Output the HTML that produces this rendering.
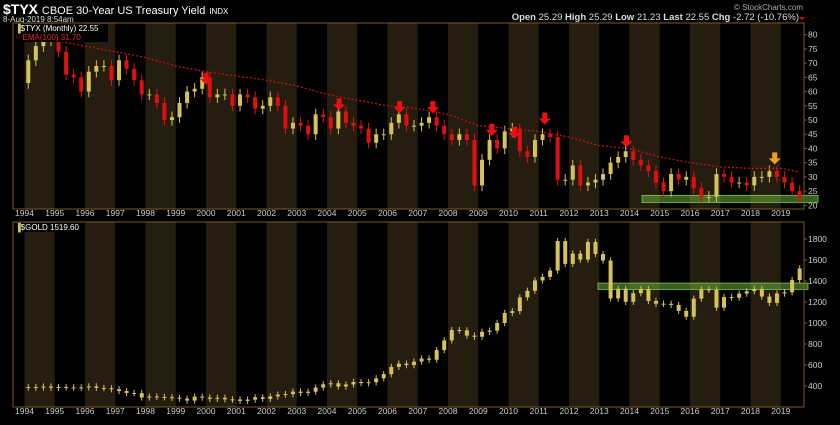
<!DOCTYPE html>
<html><head><meta charset="utf-8"><style>
body{margin:0;background:#000;width:840px;height:420px;overflow:hidden;font-family:"Liberation Sans",sans-serif}
svg text{font-family:"Liberation Sans",sans-serif}
</style></head><body>
<svg id="c" width="840" height="420" xmlns="http://www.w3.org/2000/svg">
<rect width="840" height="420" fill="#000"/>
<g id="bands"></g>
<g id="hdr">
<text x="3" y="14" fill="#fff" font-size="14" font-weight="bold">$TYX <tspan font-size="11" font-weight="normal">CBOE 30-Year US Treasury Yield</tspan> <tspan font-size="8" font-weight="normal">INDX</tspan></text>
<text x="3" y="22" fill="#ddd" font-size="8">8-Aug-2019 8:54am</text>
<text x="803" y="10" fill="#aaa" font-size="8" text-anchor="end">© StockCharts.com</text>
<text x="799" y="20" fill="#ddd" font-size="9.5" text-anchor="end"><tspan font-weight="bold">Open</tspan> 25.29 <tspan font-weight="bold">High</tspan> 25.29 <tspan font-weight="bold">Low</tspan> 21.23 <tspan font-weight="bold">Last</tspan> 22.55 <tspan font-weight="bold">Chg</tspan> -2.72 (-10.76%)</text>
<polygon points="799,17 805,17 802,20" fill="#e00"/>
</g>
<g id="marks"></g>
<g id="axes"></g>
<rect x="14" y="24" width="94" height="18" fill="#000"/>
<text x="15" y="31" fill="#fff" font-size="8"><tspan fill="#d4c25a">▐</tspan>$TYX (Monthly) 22.55</text>
<text x="15" y="40" fill="#e22" font-size="8">·· EMA(100) 31.70</text>
<rect x="14" y="223" width="68" height="9" fill="#000"/>
<text x="15" y="230" fill="#fff" font-size="8"><tspan fill="#d4c25a">▐</tspan>$GOLD 1519.60</text>
</svg>
<script>
const years=[1994,1995,1996,1997,1998,1999,2000,2001,2002,2003,2004,2005,2006,2007,2008,2009,2010,2011,2012,2013,2014,2015,2016,2017,2018,2019];
const tyxQ=[71,76,78,79,74,66,65,60,67,69,69,64,71,68,64,59,59,56,50,51,56,60,61,65,58,59,59,55,59,58,54,55,58,55,47,49,48,45,52,51,47,53,49,48,47,42,45,45,49,52,48,48,49,51,48,45,43,45,43,27,36,43,40,46,47,39,37,43,45,44,29,29,34,27,28,29,31,35,37,39,36,34,32,28,25,31,29,30,26,23,23,31,30,28,28,27,30,30,32,30,28,25,22.5];
const emaVals=[80,78,76,74,72,69,67,65.5,64,62,59,57,55,54,52,48,47,46,44,41,40,37,35,33.5,33,33,31.7];
const goldQ=[390,385,395,383,390,387,384,387,396,382,379,369,352,334,332,290,300,296,293,288,280,261,299,290,278,288,273,272,258,270,293,277,301,318,323,347,334,346,385,416,426,395,415,438,428,436,473,513,582,613,599,632,662,650,742,834,933,930,880,869,916,927,1000,1096,1113,1244,1307,1405,1439,1500,1780,1563,1662,1604,1772,1657,1595,1234,1326,1202,1284,1322,1210,1184,1183,1172,1115,1060,1232,1320,1315,1146,1247,1241,1280,1303,1325,1252,1192,1281,1292,1409,1519.6];
const tyxTicks=[20,25,30,35,40,45,50,55,60,65,70,75,80];
const goldTicks=[400,600,800,1000,1200,1400,1600,1800];
const redArrows=[2000.0,2004.4,2006.4,2007.5,2009.45,2010.2,2011.2,2013.9];
const orangeArrows=[2018.8];

const NS="http://www.w3.org/2000/svg";
function mk(t,a,p){const e=document.createElementNS(NS,t);for(const k in a)e.setAttribute(k,a[k]);p.appendChild(e);return e;}
const X=t=>24.5+(t-1994)*30.25;
const Y1=v=>205.3-(v-20)*2.843;
const Y2=v=>386-(v-400)*0.105;
const bands=document.getElementById('bands'),marks=document.getElementById('marks'),axes=document.getElementById('axes');
years.forEach(y=>{if(y%2==0){[[23,209],[222,407]].forEach(r=>{
 const b=mk('rect',{x:X(y),y:r[0],width:30.25,height:r[1]-r[0],fill:'#241d10'},bands);
 
 
});}});
[[23,209],[222,407]].forEach(r=>{
 const f=mk('rect',{x:13,y:r[0],width:791,height:r[1]-r[0],fill:'none',stroke:'#7a5a20','stroke-width':1},axes);
 
 
});
years.forEach(y=>{[216,414].forEach(yy=>{
 const t=mk('text',{x:X(y),y:yy,fill:'#ccc','font-size':8.5,'text-anchor':'middle'},axes);t.textContent=y;
 
 
});});
tyxTicks.forEach(v=>{const t=mk('text',{x:808,y:Y1(v)+3,fill:'#ccc','font-size':8.5},axes);t.textContent=v;
 
 
 mk('line',{x1:804,x2:807,y1:Y1(v),y2:Y1(v),stroke:'#7a5a20'},axes);});
goldTicks.forEach(v=>{const t=mk('text',{x:808,y:Y2(v)+3,fill:'#ccc','font-size':8.5},axes);t.textContent=v;
 
 
 mk('line',{x1:804,x2:807,y1:Y2(v),y2:Y2(v),stroke:'#7a5a20'},axes);});
const z1=mk('rect',{x:642,y:Y1(23.5),width:176,height:Y1(21)-Y1(23.5),fill:'rgba(110,170,60,0.55)',stroke:'#7c4',"stroke-width":0.8},marks);


const z2=mk('rect',{x:598,y:Y2(1380),width:210,height:Y2(1320)-Y2(1380),fill:'rgba(110,170,60,0.55)',stroke:'#7c4',"stroke-width":0.8},marks);


function candles(arr,Y,wick,prefix,start,mono){
 arr.forEach((c,i)=>{
  const o=i?arr[i-1]:start,t=1994+i*0.25+0.125,x=X(t);
  const up=c>=o,col=(up||mono)?'#d4c25a':'#e01010';
  const hi=Math.max(o,c)+wick,lo=Math.min(o,c)-wick;
  const w=mk('line',{x1:x,x2:x,y1:Y(hi),y2:Y(lo),stroke:col,'stroke-width':1},marks);
  
  
  const b=mk('rect',{x:x-2,y:Math.min(Y(o),Y(c)),width:4,height:Math.max(1,Math.abs(Y(o)-Y(c))),fill:col},marks);
  
  
 });
}
candles(tyxQ,Y1,2,'tyx',63,false);
candles(goldQ,Y2,30,'gold',385,true);
const ep=emaVals.map((v,i)=>X(Math.min(1994+i,2019.6)-(i==0?0.35:0))+','+Y1(v)).join(' ');
const em=mk('polyline',{points:ep,fill:'none',stroke:'#d01010','stroke-width':1.2,'stroke-dasharray':'2,2'},marks);


function arrow(t,col){
 const idx=Math.min(tyxQ.length-1,Math.round((t-1994)*4));
 const x=X(t),y=Y1(tyxQ[idx]+3)-16;
 const a=mk('polygon',{points:`${x-2.5},${y} ${x+2.5},${y} ${x+2.5},${y+6} ${x+6},${y+6} ${x},${y+12} ${x-6},${y+6} ${x-2.5},${y+6}`,fill:col},marks);
 
 
}
redArrows.forEach(t=>arrow(t,'#ee1010'));
orangeArrows.forEach(t=>arrow(t,'#f0a020'));
</script>
</body></html>
